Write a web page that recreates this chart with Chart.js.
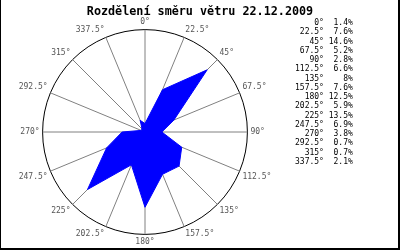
<!DOCTYPE html>
<html>
<head>
<meta charset="utf-8">
<script src="https://cdn.jsdelivr.net/npm/chart.js@4.4.0/dist/chart.umd.min.js"></script>
<style>
  html, body { margin: 0; padding: 0; background: #fff; }
  #wrap { position: relative; width: 400px; height: 250px; }
  #frame { position: absolute; left: 0; top: 0; width: 400px; height: 250px; box-sizing: border-box;
           border-left: 1px solid #000; border-right: 2px solid #000; border-bottom: 2px solid #000; pointer-events: none; }
  #title { position: absolute; left: 0; top: 3px; width: 400px; text-align: center;
           font: bold 11.75px "DejaVu Sans Mono", monospace; line-height: 16px; color: #000; }
  #legendText { position: absolute; left: 295px; top: 18px; margin: 0; font: 8px "DejaVu Sans Mono", monospace;
                line-height: 9.25px; color: #000; white-space: pre; }
</style>
</head>
<body>
<div id="wrap">
  <canvas id="chart" width="400" height="250"></canvas>
  <div id="title"></div>
  <pre id="legendText"></pre>
  <div id="frame"></div>
</div>
<script>
// wind directions (degrees) and share of time (%)
var directions = [0, 22.5, 45, 67.5, 90, 112.5, 135, 157.5, 180, 202.5, 225, 247.5, 270, 292.5, 315, 337.5];
var windShare = [1.4, 7.6, 14.6, 5.2, 2.8, 6.6, 8, 7.6, 12.5, 5.9, 13.5, 6.9, 3.8, 0.7, 0.7, 2.1];
var chartTitle = 'Rozdělení směru větru 22.12.2009';

var dirLabels = directions.map(d => d + '°');

document.getElementById('title').textContent = chartTitle;

// text list on the right
var lines = directions.map((d, i) => {
  return (d + '°').padStart(6) + ' ' + (windShare[i] + '%').padStart(5);
});
document.getElementById('legendText').textContent = lines.join('\n');

new Chart(document.getElementById('chart'), {
  type: 'radar',
  data: {
    labels: dirLabels,
    datasets: [{
      data: windShare,
      backgroundColor: 'rgb(0,0,255)',
      borderColor: 'rgb(0,0,255)',
      borderWidth: 1,
      pointRadius: 0,
      fill: true
    }]
  },
  options: {
    responsive: false,
    animation: false,
    layout: { padding: { left: 2, right: 112, top: 17, bottom: 2 } },
    plugins: {
      legend: { display: false },
      tooltip: { enabled: false },
      title: { display: false }
    },
    scales: {
      r: {
        min: 0,
        max: 17,
        ticks: { display: false, stepSize: 17 },
        grid: { circular: true, color: '#000', lineWidth: 1 },
        angleLines: { color: '#808080', lineWidth: 1 },
        pointLabels: {
          color: '#555',
          padding: 3,
          font: { family: 'DejaVu Sans Mono', size: 8 }
        }
      }
    }
  }
});
</script>
</body>
</html>
